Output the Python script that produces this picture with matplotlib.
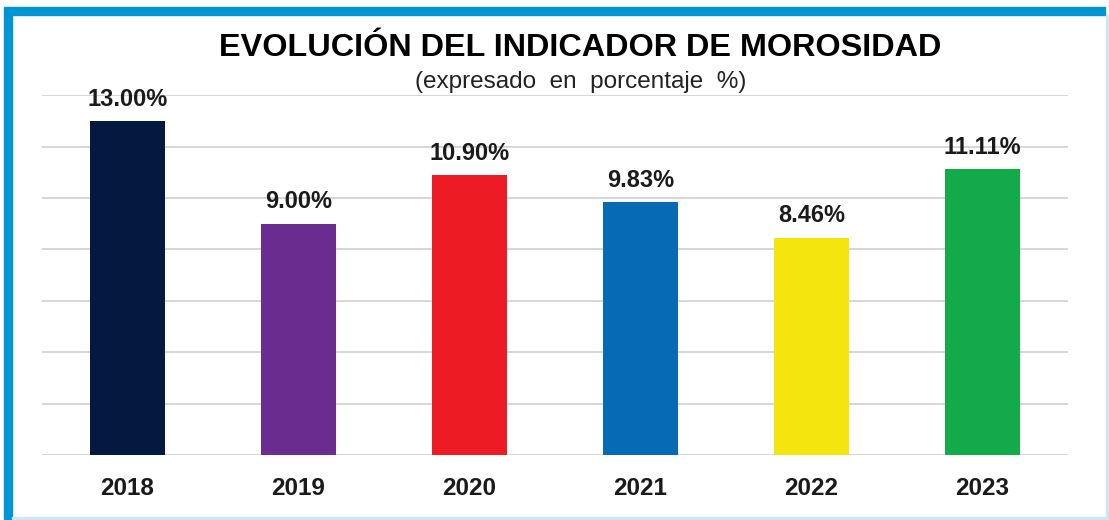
import matplotlib.pyplot as plt
from matplotlib.patches import Rectangle

years = ["2018", "2019", "2020", "2021", "2022", "2023"]
morosidad = [13.00, 9.00, 10.90, 9.83, 8.46, 11.11]
bar_colors = ["#041840", "#6a2c8e", "#ed1c24", "#066ab5", "#f5e50f", "#13ab4a"]

fuente = ["Liberation Sans", "DejaVu Sans"]

fig = plt.figure(figsize=(11.09, 5.2), dpi=100)
ax = fig.add_axes([0.0379, 0.125, 0.9251, 0.692])

x = range(len(years))
bars = ax.bar(x, morosidad, width=0.435, color=bar_colors, zorder=3)

for bar, val in zip(bars, morosidad):
    ax.text(bar.get_x() + bar.get_width() / 2, val + 0.4, f"{val:.2f}%",
            ha="center", va="bottom", fontsize=17, fontweight="bold",
            family=fuente, color="#1a1a1a", zorder=4)

ax.set_xlim(-0.5, len(years) - 0.5)
ax.set_ylim(0, 14)
ax.set_yticks(range(0, 15, 2))
ax.yaxis.grid(True, color="#d0d0d0", linewidth=1.2, zorder=0)
ax.set_yticklabels([])
ax.tick_params(axis="y", length=0)
ax.set_xticks(list(x))
ax.set_xticklabels(years, fontsize=17.5, fontweight="bold", family=fuente, color="#1a1a1a")
ax.tick_params(axis="x", length=0, pad=16)
for s in ax.spines.values():
    s.set_visible(False)

fig.text(0.523, 0.908, "EVOLUCIÓN DEL INDICADOR DE MOROSIDAD", ha="center", va="center",
         fontsize=23.3, fontweight="bold", family="Liberation Sans")
fig.text(0.524, 0.843, "(expresado  en  porcentaje  %)", ha="center", va="center",
         fontsize=17.5, family="Liberation Sans", color="#222222")

# marco azul
fig.patches.append(Rectangle((4 / 1109, 1 - 15 / 520), 1101 / 1109, 8 / 520,
                             transform=fig.transFigure, color="#0096d6", zorder=10))
fig.patches.append(Rectangle((4 / 1109, 1 / 520), 8 / 1109, 1 - 16 / 520,
                             transform=fig.transFigure, color="#0096d6", zorder=10))
fig.patches.append(Rectangle((1106 / 1109, 1 / 520), 2 / 1109, 1 - 16 / 520,
                             transform=fig.transFigure, color="#cde6f5", zorder=10))
fig.patches.append(Rectangle((12 / 1109, 1 / 520), 1096 / 1109, 2 / 520,
                             transform=fig.transFigure, color="#cde6f5", zorder=10))

fig.savefig("out.png", dpi=100)
